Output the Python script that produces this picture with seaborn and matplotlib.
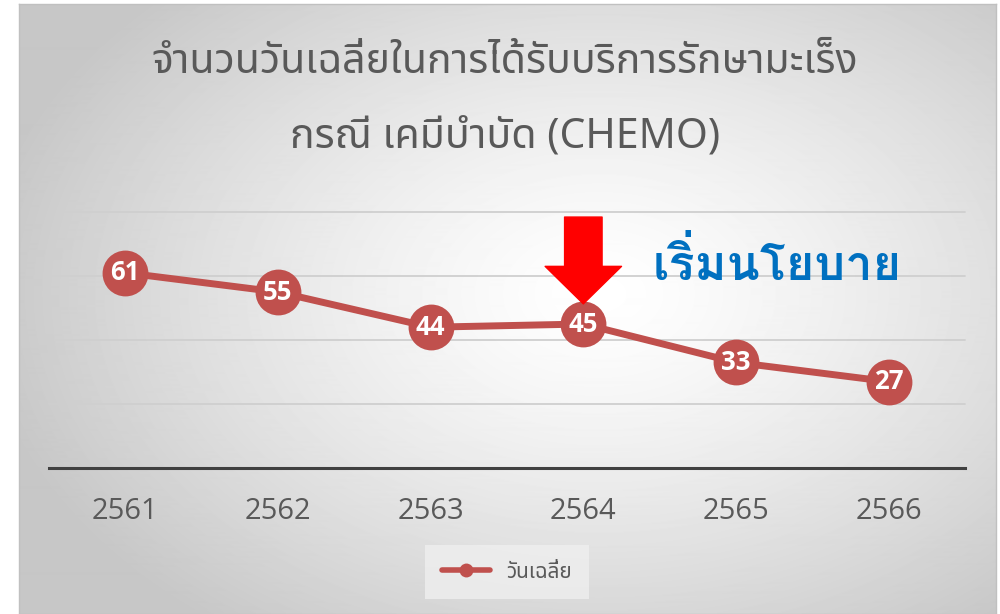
import numpy as np
import pandas as pd
import seaborn as sns
import matplotlib.pyplot as plt
from matplotlib.lines import Line2D

# data
years = ['2561', '2562', '2563', '2564', '2565', '2566']
days = [61, 55, 44, 45, 33, 27]
series_name = 'วันเฉลี่ย'
title = 'จำนวนวันเฉลี่ยในการได้รับบริการรักษามะเร็ง\nกรณี เคมีบำบัด (CHEMO)'
policy_text = 'เริ่มนโยบาย'
policy_year = '2564'

line_color = '#C0504D'
text_grey = '#595959'
thai_fonts = ['Noto Sans Thai', 'Open Sans', 'DejaVu Sans']

sns.set_style('white')
plt.rcParams['font.family'] = thai_fonts

fig = plt.figure(figsize=(10, 6.14), dpi=100)
fig.patch.set_facecolor('white')

# radial grey background of the chart area
bg = fig.add_axes([0.019, 0.0, 0.977, 0.9935])
yy, xx = np.mgrid[0:610, 0:977]
r = np.sqrt(((xx - 580) / 620.0) ** 2 + ((yy - 290) / 420.0) ** 2)
shade = 1.0 - 0.22 * np.clip(r, 0, 1) ** 1.3
bg.imshow(shade, cmap='gray', vmin=0, vmax=1, aspect='auto', interpolation='bilinear')
bg.set_xticks([])
bg.set_yticks([])
for s in bg.spines.values():
    s.set_color('#c0c0c0')
    s.set_linewidth(1)

ax = fig.add_axes([0.049, 0.2378, 0.916, 0.4169])
ax.patch.set_alpha(0)

df = pd.DataFrame({'year': years, 'days': days})
sns.lineplot(data=df, x='year', y='days', marker='o', markersize=33,
             markeredgewidth=0, linewidth=5, color=line_color, ax=ax,
             legend=False, zorder=3)

for i, v in enumerate(days):
    ax.text(i, v, str(v), ha='center', va='center', color='white',
            fontsize=18.5, fontweight='bold', family=['Open Sans'], zorder=4)

ax.set_xlim(-0.5, len(years) - 0.5)
ax.set_ylim(0, 80)
ax.set_yticks([20, 40, 60, 80])
ax.yaxis.grid(True, color='#cfcfcf', linewidth=1.3)
ax.set_yticklabels([])
ax.tick_params(axis='y', length=0)
ax.tick_params(axis='x', length=0, pad=21, labelsize=21, labelcolor=text_grey)
for lbl in ax.get_xticklabels():
    lbl.set_family(['Open Sans'])
ax.set_xlabel('')
ax.set_ylabel('')
for s in ['left', 'right', 'top']:
    ax.spines[s].set_visible(False)
ax.spines['bottom'].set_color('#404040')
ax.spines['bottom'].set_linewidth(2.2)
for gl in ax.get_ygridlines():
    gl.set_clip_on(False)

# policy arrow pointing at the 2564 point
pi = years.index(policy_year)
ax.annotate('', xy=(pi, days[pi]), xytext=(0, 77), textcoords='offset points',
            arrowprops=dict(arrowstyle='simple,head_length=27,head_width=55,tail_width=27',
                            color='#FF0000', shrinkA=0, shrinkB=14.5, mutation_scale=1),
            zorder=5, annotation_clip=False)
ax.text(4.27, 63.6, policy_text, ha='center', va='center', color='#0070C0',
        fontsize=35, fontweight='bold', family=['Loma', 'DejaVu Sans'])

fig.text(0.505, 0.837, title, ha='center', va='center', color=text_grey,
         fontsize=29.5, linespacing=2.05)

handle = Line2D([], [], color=line_color, linewidth=4, marker='o', markersize=10,
                markeredgewidth=0)
leg = fig.legend([handle], [series_name], loc='center', bbox_to_anchor=(0.507, 0.068),
                 frameon=True, facecolor='#efefef', edgecolor='none', fontsize=15,
                 handlelength=2.3, borderpad=0.8, fancybox=False)
for t in leg.get_texts():
    t.set_color(text_grey)

fig.savefig('out.png', dpi=100)
